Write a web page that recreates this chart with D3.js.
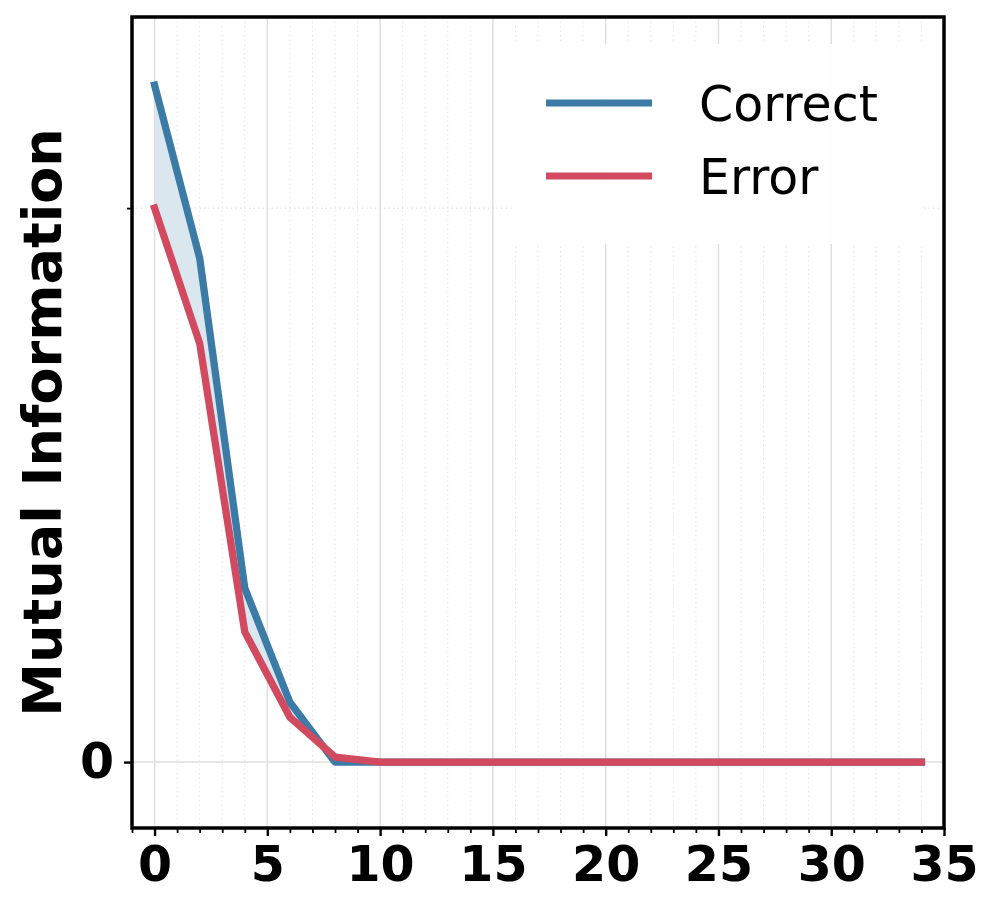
<!DOCTYPE html>
<html>
<head>
<meta charset="utf-8">
<script src="https://cdn.jsdelivr.net/npm/d3@7"></script>
<style>
  html, body { margin: 0; padding: 0; background: #fff; }
  svg { display: block; }
</style>
</head>
<body>
<svg id="chart" width="997" height="913"></svg>
<script>
// ---- data ----
const steps = [0, 2, 4, 6, 8, 10, 12, 14, 16, 18, 20, 22, 24, 26, 28, 30, 32, 34];
const correctValues = [1.222, 0.910, 0.314, 0.108, 0.0, 0, 0, 0, 0, 0, 0, 0, 0, 0, 0, 0, 0, 0];
const errorValues   = [1.0, 0.756, 0.235, 0.081, 0.009, 0, 0, 0, 0, 0, 0, 0, 0, 0, 0, 0, 0, 0];
const seriesNames = ["Correct", "Error"];
const xMajorTicks = [0, 5, 10, 15, 20, 25, 30, 35];
const yMajorTicks = [0];
const yMajorLabels = ["0"];
const yMinorTicks = [1];

// ---- layout ----
const W = 997, H = 913;
const L = 132, R = 944, T = 17, B = 828;
const colCorrect = "#3b7ba6", colError = "#d14a5f", colFill = "#dbe7ef";

const svg = d3.select("#chart");
const x = d3.scaleLinear().domain([-1, 35]).range([L, R]);
const y = d3.scaleLinear().domain([-0.119, 1.345]).range([B, T]);

const xMinorTicks = d3.range(-1, 36).filter(v => !xMajorTicks.includes(v));

const data = steps.map((s, i) => ({ s, c: correctValues[i], e: errorValues[i] }));

// fill between
svg.append("path")
  .datum(data)
  .attr("d", d3.area().x(d => x(d.s)).y0(d => y(d.e)).y1(d => y(d.c)))
  .attr("fill", colFill);

// grid
const grid = svg.append("g");
grid.selectAll(".xminor").data(xMinorTicks).join("line")
  .attr("x1", d => x(d)).attr("x2", d => x(d)).attr("y1", T).attr("y2", B)
  .attr("stroke", "#e6e6e6").attr("stroke-width", 1).attr("stroke-dasharray", "1.5,3");
grid.selectAll(".yminor").data(yMinorTicks).join("line")
  .attr("y1", d => y(d)).attr("y2", d => y(d)).attr("x1", L).attr("x2", R)
  .attr("stroke", "#e3e3e3").attr("stroke-width", 1.2).attr("stroke-dasharray", "1.5,3");
grid.selectAll(".xmajor").data(xMajorTicks).join("line")
  .attr("x1", d => x(d)).attr("x2", d => x(d)).attr("y1", T).attr("y2", B)
  .attr("stroke", "#dedede").attr("stroke-width", 1.5);
grid.selectAll(".ymajor").data(yMajorTicks).join("line")
  .attr("y1", d => y(d)).attr("y2", d => y(d)).attr("x1", L).attr("x2", R)
  .attr("stroke", "#dedede").attr("stroke-width", 1.5);

// lines
const line = key => d3.line().x(d => x(d.s)).y(d => y(d[key]));
svg.append("path").datum(data).attr("d", line("c"))
  .attr("fill", "none").attr("stroke", colCorrect).attr("stroke-width", 7.3)
  .attr("stroke-linejoin", "round").attr("stroke-linecap", "square");
svg.append("path").datum(data).attr("d", line("e"))
  .attr("fill", "none").attr("stroke", colError).attr("stroke-width", 7.3)
  .attr("stroke-linejoin", "round").attr("stroke-linecap", "square");

// axes
const font = "'DejaVu Sans', sans-serif";
const xAxis = svg.append("g").attr("transform", `translate(0,${B})`)
  .call(d3.axisBottom(x).tickValues(xMajorTicks).tickSize(8).tickPadding(10).tickFormat(d3.format("d")));
xAxis.select(".domain").remove();
xAxis.selectAll(".tick line").attr("stroke", "#000").attr("stroke-width", 2.4);
xAxis.selectAll("text").attr("font-family", font).attr("font-weight", "bold")
  .attr("font-size", 49).attr("fill", "#000");
const xMinorAxis = svg.append("g").attr("transform", `translate(0,${B})`)
  .call(d3.axisBottom(x).tickValues(xMinorTicks).tickSize(5).tickFormat(""));
xMinorAxis.select(".domain").remove();
xMinorAxis.selectAll(".tick line").attr("stroke", "#000").attr("stroke-width", 1.8);

const yAxis = svg.append("g").attr("transform", `translate(${L},0)`)
  .call(d3.axisLeft(y).tickValues(yMajorTicks).tickSize(8).tickPadding(10)
    .tickFormat((d, i) => yMajorLabels[i]));
yAxis.select(".domain").remove();
yAxis.selectAll(".tick line").attr("stroke", "#000").attr("stroke-width", 2.4);
yAxis.selectAll("text").attr("font-family", font).attr("font-weight", "bold")
  .attr("font-size", 49).attr("fill", "#000");
const yMinorAxis = svg.append("g").attr("transform", `translate(${L},0)`)
  .call(d3.axisLeft(y).tickValues(yMinorTicks).tickSize(5).tickFormat(""));
yMinorAxis.select(".domain").remove();
yMinorAxis.selectAll(".tick line").attr("stroke", "#000").attr("stroke-width", 1.8);

// spines
svg.append("rect").attr("x", L).attr("y", T).attr("width", R - L).attr("height", B - T)
  .attr("fill", "none").attr("stroke", "#000").attr("stroke-width", 3.5);

// y label
svg.append("text")
  .attr("transform", `translate(61,${(T + B) / 2}) rotate(-90)`)
  .attr("text-anchor", "middle")
  .attr("font-family", font).attr("font-weight", "bold").attr("font-size", 54)
  .attr("fill", "#000")
  .text("Mutual Information");

// legend
const leg = svg.append("g");
leg.append("rect").attr("x", 513).attr("y", 44).attr("width", 409).attr("height", 200)
  .attr("fill", "#fff").attr("fill-opacity", 0.93);
const legItems = seriesNames.map((n, i) => ({ n, c: i === 0 ? colCorrect : colError, i }));
const legY = d => 103 + d.i * 73;
leg.selectAll(".ll").data(legItems).join("line")
  .attr("x1", 546).attr("x2", 652).attr("y1", legY).attr("y2", legY)
  .attr("stroke", d => d.c).attr("stroke-width", 7);
leg.selectAll(".lt").data(legItems).join("text")
  .attr("x", 699).attr("y", d => legY(d) + 18)
  .attr("font-family", font).attr("font-size", 49).attr("fill", "#000")
  .text(d => d.n);
</script>
</body>
</html>
